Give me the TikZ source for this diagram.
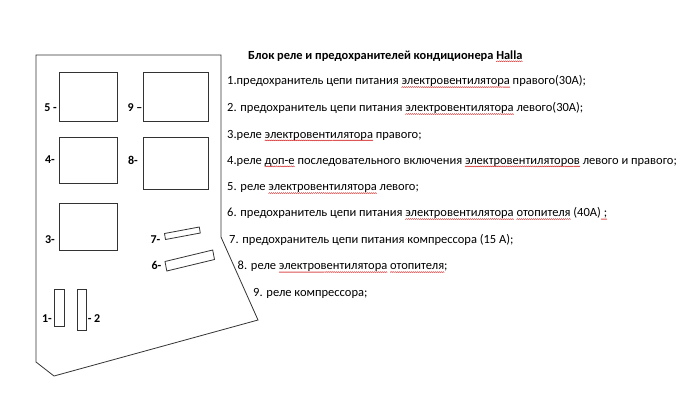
\documentclass[tikz,border=0pt]{standalone}
\usepackage{fontspec}
\setmainfont{Carlito}
\usepackage{tikz}
\usetikzlibrary{positioning}

% red spell check wave under a word
\newsavebox\splbox
\newcommand\wavebit{\tikz[x=1pt,y=1pt]{\useasboundingbox (0,0) rectangle (2,1); \draw[red!80!black, line width=0.35pt] (0,0) -- (1,1) -- (2,0);}}
\newcommand\spl[1]{\sbox\splbox{#1}\rlap{\raisebox{-2.8pt}[0pt][0pt]{\hbox to \wd\splbox{\xleaders\hbox{\wavebit}\hfil}}}\usebox\splbox}

\tikzset{
	item/.style={anchor=base west, inner sep=0pt, font=\fontsize{12.5}{14}\selectfont},
	num/.style={inner sep=0pt, font=\fontsize{12}{14}\selectfont\bfseries},
	part/.style={draw=black!80, line width=0.8pt}
}

\begin{document}
\begin{tikzpicture}[x=1pt,y=-1pt]
	\useasboundingbox (0,0) rectangle (700,405);
	% outline of the block
	\draw[part] (36,55) -- (221,55) -- (221,237) -- (258,320) -- (54,376) -- (36,362) -- cycle;
	% relays
	\draw[part] (59,72) rectangle (117,121);
	\draw[part] (143,72) rectangle (208,121);
	\draw[part] (59,137) rectangle (117,183);
	\draw[part] (143,137) rectangle (208,189);
	\draw[part] (59,203) rectangle (117,250);
	% fuses
	\draw[part] (164.5,233.5) -- (199.3,227) -- (200.3,233) -- (165.5,239.5) -- cycle;
	\draw[part] (165,261.5) -- (212.7,250) -- (214.5,259.5) -- (166.8,271) -- cycle;
	\draw[part] (54,289.5) rectangle (64.5,326);
	\draw[part] (77.5,289.5) rectangle (86.5,330);
	% numbers
	\node[num] (n5) at (50.5,107.7) {5 -};
	\node[num] (n9) at (135,107.7) {9 --};
	\node[num] (n4) at (50,160) {4-};
	\node[num] (n8) at (133,160) {8-};
	\node[num] (n3) at (50,240) {3-};
	\node[num] (n7) at (155.5,239.5) {7-};
	\node[num] (n6) at (156.5,265.7) {6-};
	\node[num] (n1) at (47,318.3) {1-};
	\node[num] (n2) at (94,318.3) {- 2};
	% legend
	\node[item, font=\fontsize{12.4}{14}\selectfont\bfseries] (title) at (248,59) {Блок реле и предохранителей кондиционера \spl{Halla}};
	\node[item] (l1) at (227,84.8) {1.предохранитель цепи питания \spl{электровентилятора} правого(30А);};
	\node[item] (l2) at (227,111.8) {2. предохранитель цепи питания \spl{электровентилятора} левого(30А);};
	\node[item] (l3) at (227,138.1) {3.реле \spl{электровентилятора} правого;};
	\node[item] (l4) at (227,164.1) {4.реле \spl{доп-е} последовательного включения \spl{электровентиляторов} левого и правого;};
	\node[item] (l5) at (227,190.8) {5. реле \spl{электровентилятора} левого;};
	\node[item] (l6) at (227,216.8) {6. предохранитель цепи питания \spl{электровентилятора} \spl{отопителя} (40А)\spl{ ;}};
	\node[item] (l7) at (229,243.4) {7. предохранитель цепи питания компрессора (15 А);};
	\node[item] (l8) at (237.5,269.8) {8. реле \spl{электровентилятора} \spl{отопителя};};
	\node[item] (l9) at (253,296.4) {9. реле компрессора;};
\end{tikzpicture}
\end{document}
